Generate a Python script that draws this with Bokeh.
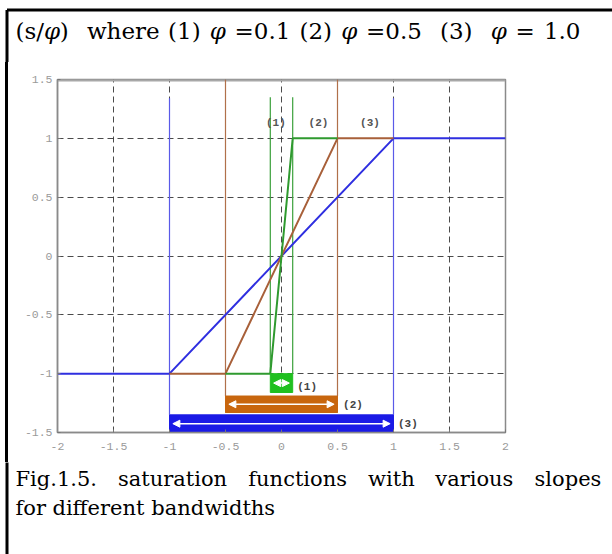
from bokeh.plotting import figure
from bokeh.layouts import column, row
from bokeh.models import ColumnDataSource, FixedTicker, Arrow, NormalHead, Range1d, Spacer
from bokeh.core.properties import value
from bokeh.embed import file_html
from bokeh.resources import INLINE

# ---------------- data ----------------
x_ticks = [-2, -1.5, -1, -0.5, 0, 0.5, 1, 1.5, 2]
x_tick_labels = ["-2", "-1.5", "-1", "-0.5", "0", "0.5", "1", "1.5", "2"]
y_ticks = [-1.5, -1, -0.5, 0, 0.5, 1, 1.5]
y_tick_labels = ["-1.5", "-1", "-0.5", "0", "0.5", "1", "1.5"]

curve_names = ["(1)", "(2)", "(3)"]
phi_values = [0.1, 0.5, 1.0]

sat3_x = [-2, -1, 1, 2]
sat3_y = [-1, -1, 1, 1]
sat2_x = [-1, -0.5, 0.5, 1]
sat2_y = [-1, -1, 1, 1]
sat1_x = [-0.5, -0.1, 0.1, 0.5]
sat1_y = [-1, -1, 1, 1]

bound_x = [-1, 1, -0.5, 0.5, -0.1, 0.1]
bound_top = [1.34, 1.34, 1.5, 1.5, 1.35, 1.35]
bound_bottom = [-1.35, -1.35, -1.19, -1.19, -1.0, -1.0]

band_left = [-0.1, -0.5, -1.0]
band_right = [0.1, 0.5, 1.0]
band_top = [-1.0, -1.19, -1.35]
band_bottom = [-1.16, -1.33, -1.5]

top_label_x = [-0.05, 0.33, 0.79]
top_label_y = [1.13, 1.13, 1.13]
band_label_x = [0.14, 0.55, 1.04]
band_label_y = [-1.11, -1.27, -1.43]

title_segments = [("(s/", False), ("φ", True), (")  where (1) ", False), ("φ", True),
                  (" =0.1 (2) ", False), ("φ", True), (" =0.5  (3)  ", False), ("φ", True),
                  (" = 1.0", False)]
caption_line1 = "Fig.1.5. saturation functions with various slopes"
caption_line2 = "for different bandwidths"

# ---------------- styles / layout ----------------
BLUE = "#2f2fe0"
BROWN = "#a8603a"
GREEN = "#2f9a2f"
BAR_COLORS = ["#20c020", "#c8660e", "#1a1ae6"]
BOUND_COLORS = ["#5a5ae8", "#5a5ae8", "#b0704a", "#b0704a", "#3aa03a", "#3aa03a"]

W, H = 612, 554
TOP_H = 62          # title strip height
STRIP_W = 20        # left strip carrying the document border
FRAME_T, FRAME_B = 79, 432
MAIN_H = 462 - TOP_H
BOT_H = H - TOP_H - MAIN_H
FRAME_L, FRAME_R = 57, 505   # canvas x of plot frame
BORDER_X, BORDER_Y = 6.5, 9.5


def blank(width, height):
    f = figure(width=width, height=height, x_range=Range1d(0, width), y_range=Range1d(height, 0),
               output_backend="svg", toolbar_location=None, x_axis_type=None, y_axis_type=None,
               min_border=0, min_border_left=0, min_border_right=0, min_border_top=0,
               min_border_bottom=0)
    f.outline_line_color = None
    f.background_fill_color = "white"
    f.border_fill_color = "white"
    f.grid.visible = False
    return f


# ---------------- main chart ----------------
p_main = figure(width=W - STRIP_W, height=MAIN_H, x_range=(-2, 2), y_range=(-1.5, 1.5),
                output_backend="svg", toolbar_location=None,
                min_border_left=FRAME_L - STRIP_W, min_border_right=W - FRAME_R,
                min_border_top=FRAME_T - TOP_H, min_border_bottom=TOP_H + MAIN_H - FRAME_B)
p_main.background_fill_color = "white"
p_main.border_fill_color = "white"
p_main.outline_line_color = "#8a8a8a"
p_main.outline_line_width = 1.5

for ax, ticks, labels in ((p_main.xaxis, x_ticks, x_tick_labels),
                          (p_main.yaxis, y_ticks, y_tick_labels)):
    ax.ticker = FixedTicker(ticks=ticks)
    ax.major_label_overrides = {t: l for t, l in zip(ticks, labels)}
    ax.minor_tick_line_color = None
    ax.major_tick_in = 3
    ax.major_tick_out = 0
    ax.major_tick_line_color = "#777777"
    ax.axis_line_color = "#8a8a8a"
    ax.axis_line_width = 1.5
    ax.major_label_text_font = "Liberation Mono"
    ax.major_label_text_font_size = "11.5px"
    ax.major_label_text_color = "#9a9a9a"
p_main.xaxis.major_label_standoff = 10
p_main.yaxis.major_label_standoff = 5

for g in (p_main.xgrid, p_main.ygrid):
    g.grid_line_color = "#2a2a2a"
    g.grid_line_dash = "6 4"
    g.grid_line_width = 1
    g.grid_line_alpha = 0.85
p_main.xgrid.ticker = FixedTicker(ticks=x_ticks)
p_main.ygrid.ticker = FixedTicker(ticks=y_ticks)

# thicker light-grey top edge of the plot box
p_main.segment(x0=[x_ticks[0]], y0=[y_ticks[-1]], x1=[x_ticks[-1]], y1=[y_ticks[-1]],
               line_color="#a8a8a8", line_width=4)

p_main.segment(x0=bound_x, y0=bound_bottom, x1=bound_x, y1=bound_top,
               line_color=BOUND_COLORS, line_width=1.2)

p_main.line(sat3_x, sat3_y, line_color=BLUE, line_width=2)
p_main.line(sat2_x, sat2_y, line_color=BROWN, line_width=2)
p_main.line(sat1_x, sat1_y, line_color=GREEN, line_width=2)

p_main.quad(left=band_left, right=band_right, top=band_top, bottom=band_bottom,
            fill_color=BAR_COLORS, line_color=BAR_COLORS)

arrow_src = ColumnDataSource(dict(
    xs=[l + 0.03 for l in band_left],
    xe=[r - 0.03 for r in band_right],
    y=[(t + b) / 2 for t, b in zip(band_top, band_bottom)],
))
p_main.add_layout(Arrow(source=arrow_src, x_start="xs", x_end="xe", y_start="y", y_end="y",
                        line_color="white", line_width=1.5,
                        start=NormalHead(size=7, fill_color="white", line_color="white"),
                        end=NormalHead(size=7, fill_color="white", line_color="white")))

p_main.text(x=top_label_x, y=top_label_y, text=curve_names, text_align="center",
            text_baseline="middle", text_font=value("Liberation Mono"), text_font_style="bold",
            text_font_size="11px", text_color="#555555")
p_main.text(x=band_label_x, y=band_label_y, text=curve_names, text_align="left",
            text_baseline="middle", text_font=value("Liberation Mono"), text_font_style="bold",
            text_font_size="11px", text_color="#444444")

# ---------------- document text ----------------
CW = {' ': 651, '(': 799, ')': 799, '/': 690, '.': 651, '=': 1716, 'φ': 1400, 'F': 1400,
      'a': 1221, 'b': 1313, 'c': 1147, 'd': 1313, 'e': 1212, 'f': 739, 'g': 1313, 'h': 1321,
      'i': 655, 'l': 655, 'n': 1321, 'o': 1235, 'p': 1313, 'r': 980, 's': 1055, 't': 821,
      'u': 1321, 'v': 1157, 'w': 1694}
for d in "0123456789":
    CW[d] = 1303


def cw(ch, fs):
    return CW.get(ch, 1200) / 2048 * fs


def place_line(fig, segments, x0, cy, fs, right=None):
    chars = [(ch, it) for txt, it in segments for ch in txt]
    natural = sum(cw(ch, fs) for ch, _ in chars)
    nsp = sum(1 for ch, _ in chars if ch == ' ')
    extra = (right - x0 - natural) / nsp if (right is not None and nsp) else 0
    x = x0
    run, run_x, run_it = "", None, None
    out = []
    for ch, it in chars:
        if ch == ' ' or (run and it != run_it):
            if run:
                out.append((run_x, run, run_it))
            run = ""
        if ch == ' ':
            x += cw(ch, fs) + extra
            continue
        if not run:
            run_x, run_it = x, it
        run += ch
        x += cw(ch, fs)
    if run:
        out.append((run_x, run, run_it))
    for style in (False, True):
        toks = [o for o in out if o[2] == style]
        if toks:
            fig.text(x=[o[0] for o in toks], y=[cy] * len(toks), text=[o[1] for o in toks],
                     text_font=value("DejaVu Serif"), text_font_size=f"{fs}px",
                     text_font_style="italic" if style else "normal",
                     text_color="black", text_baseline="middle", text_align="left")


p_top = blank(W, TOP_H)
place_line(p_top, title_segments, 15, 30, 23, right=580)
p_top.segment(x0=[BORDER_X, BORDER_X], y0=[BORDER_Y, BORDER_Y], x1=[W + 5, BORDER_X],
              y1=[BORDER_Y, TOP_H + 5], line_color="black", line_width=3)

strip = Spacer(width=STRIP_W, height=MAIN_H, margin=0,
               styles={"background": "linear-gradient(to right, white 5px, black 5px, "
                                     "black 8px, white 8px)"})

p_bot = blank(W, BOT_H)
place_line(p_bot, [(caption_line1, False)], 15, 478 - TOP_H - MAIN_H, 21, right=601)
place_line(p_bot, [(caption_line2, False)], 15, 507 - TOP_H - MAIN_H, 21)
p_bot.segment(x0=[BORDER_X], y0=[-5], x1=[BORDER_X], y1=[BOT_H + 5],
              line_color="black", line_width=3)

p = column(p_top, row(strip, p_main, spacing=0), p_bot, spacing=0)

open("out.html", "w").write(file_html(p, INLINE))
